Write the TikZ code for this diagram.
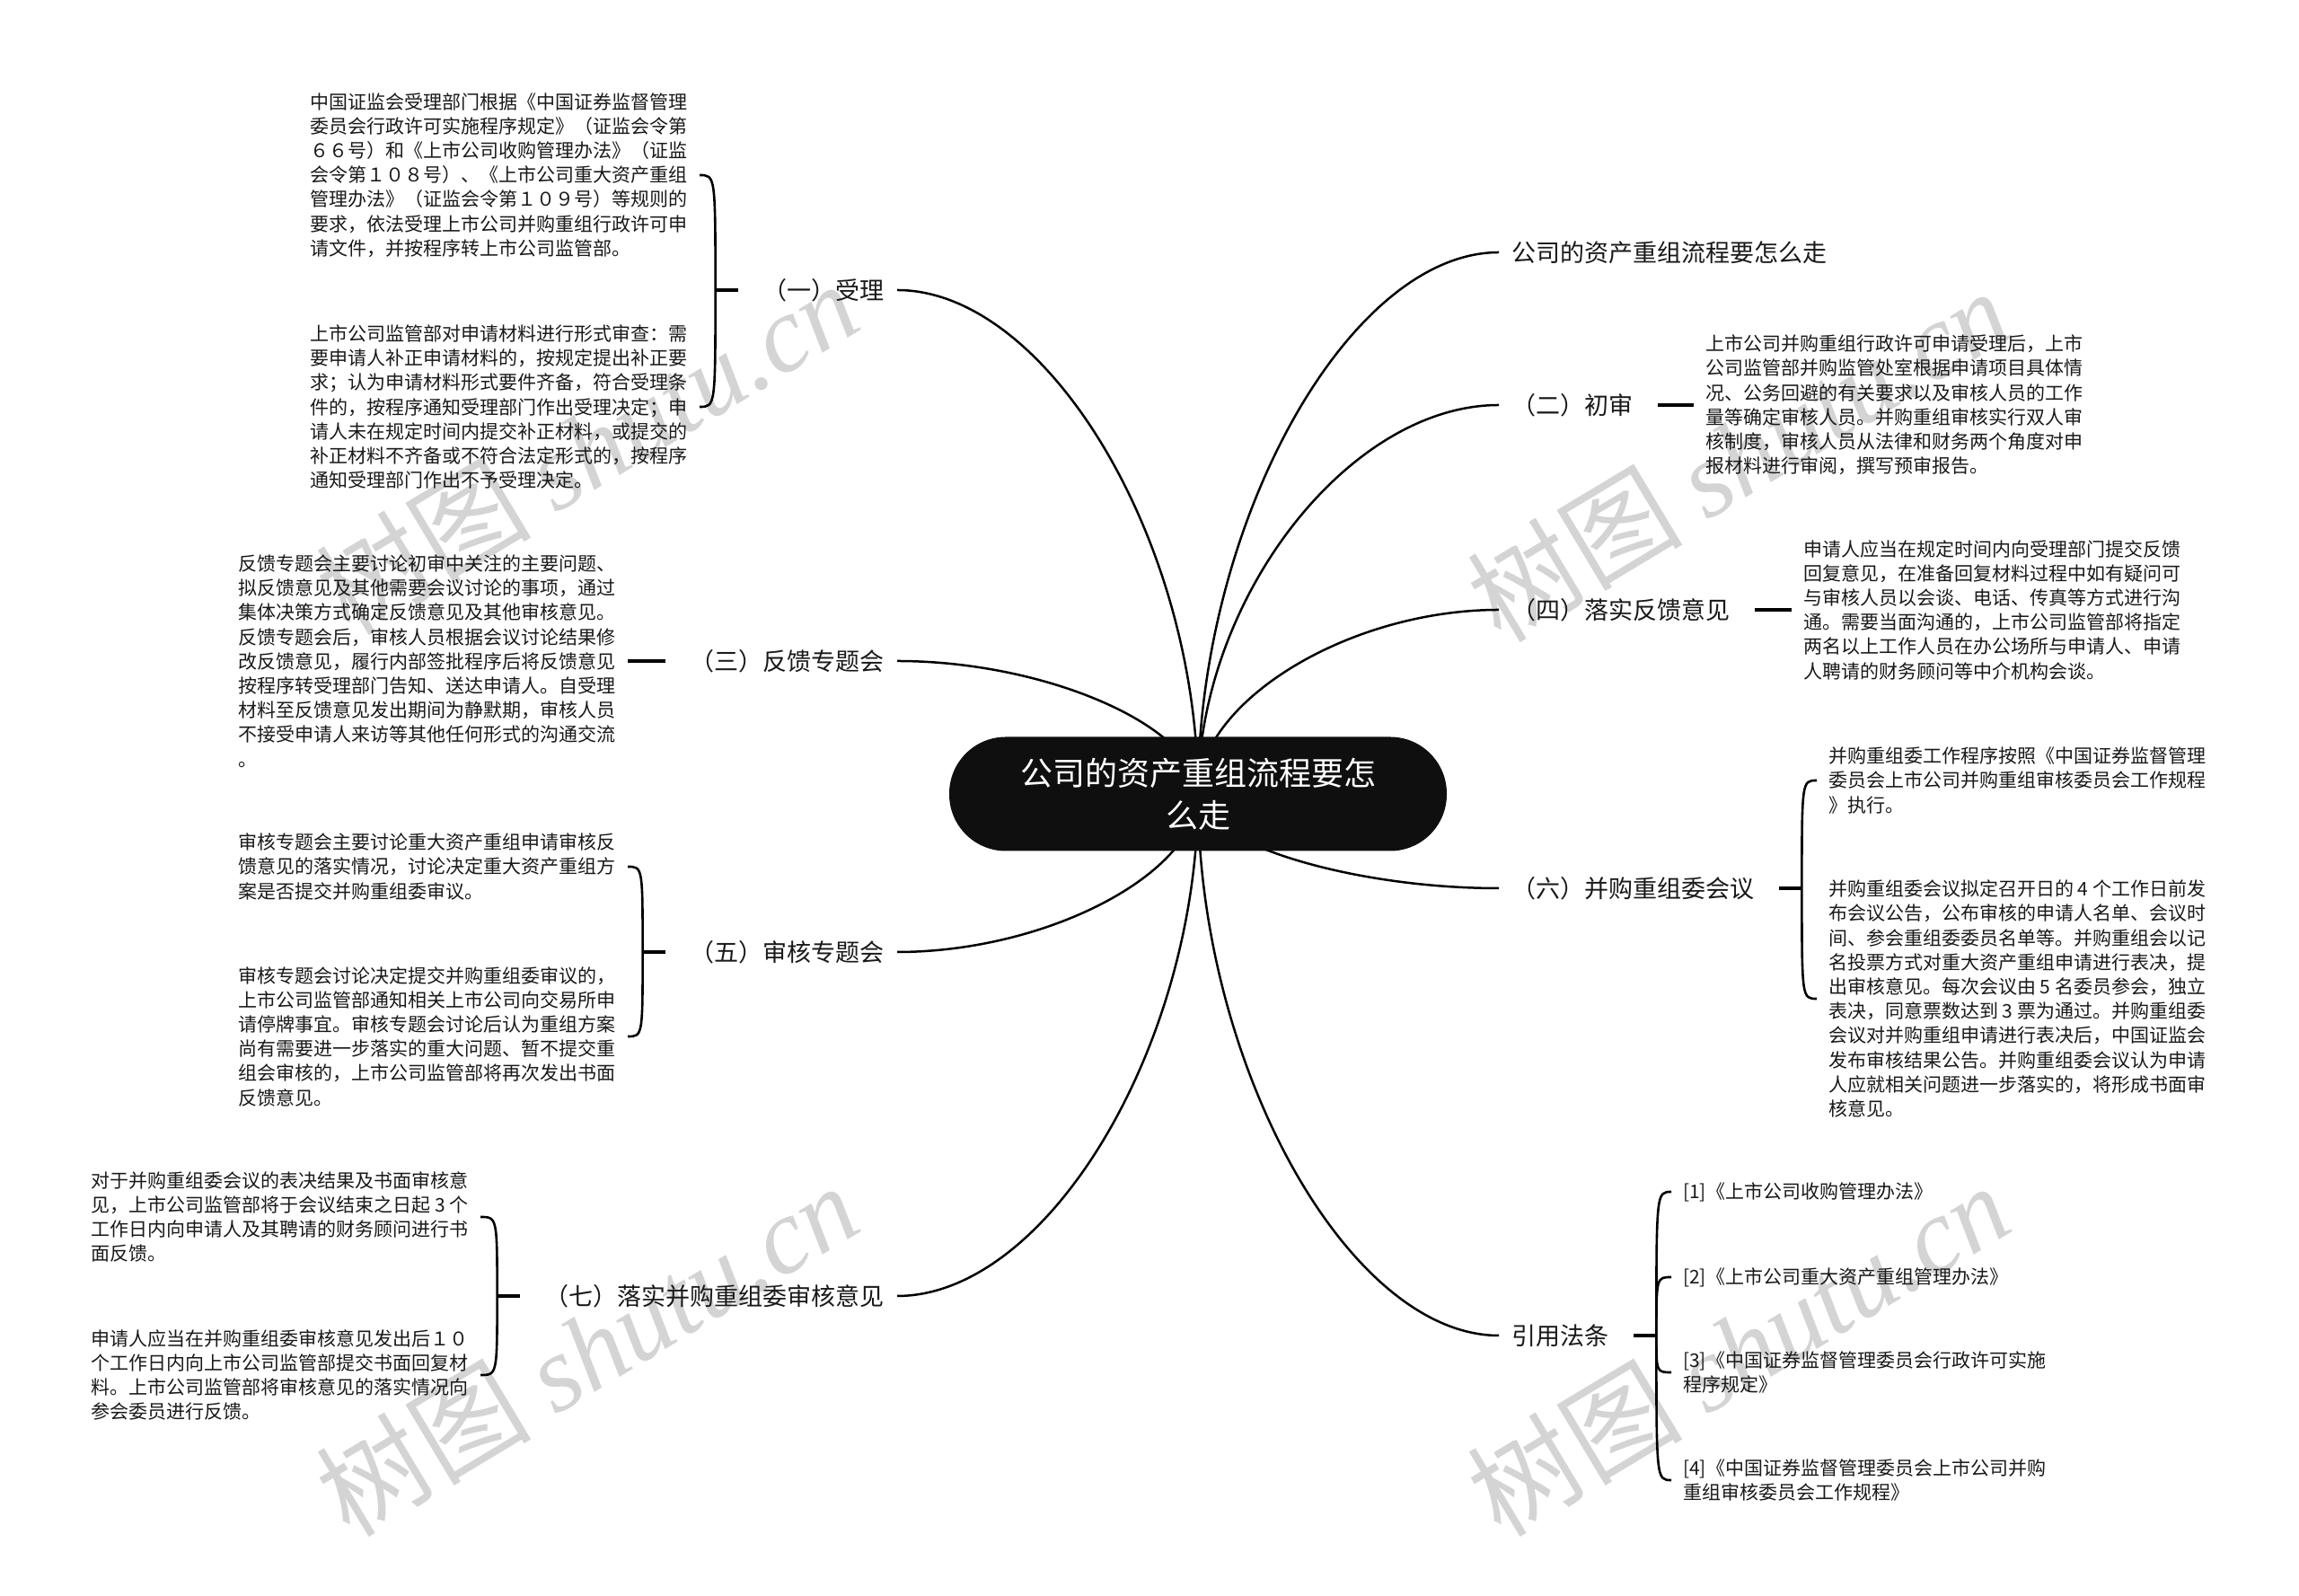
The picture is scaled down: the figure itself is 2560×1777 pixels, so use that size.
\documentclass[tikz,border=0pt]{standalone}
\usepackage{fontspec}
\setmainfont{Noto Sans CJK SC}
\newfontfamily\wmlatin{Liberation Serif}
\usetikzlibrary{calc,backgrounds,positioning}

\begin{document}
\begin{tikzpicture}[
    x=1pt, y=1pt,
    root/.style={rectangle, fill=black!94, text=white, minimum width=554pt, minimum height=127pt, rounded corners=63pt, align=center, font=\fontsize{36}{47}\selectfont},
    topic/.style={inner xsep=14pt, inner ysep=4pt, text=black!90, font=\fontsize{27}{33}\selectfont},
    note/.style={inner xsep=13pt, inner ysep=2pt, align=left, text=black!90, font=\fontsize{21}{27.2}\selectfont},
    branch/.style={line width=2.5pt, to path={.. controls ($(\tikztostart)!0.5!(\tikztostart|-\tikztotarget)$) and ($(\tikztotarget)!0.5!(\tikztostart|-\tikztotarget)$) .. (\tikztotarget)}},
    tick/.style={line width=3.6pt},
    hook/.style={line width=2.6pt, to path={.. controls (\tikztostart|-\tikztotarget) .. (\tikztotarget)}},
    watermark/.style={text=black!17, rotate=31, font=\fontsize{120}{120}\selectfont}
]
\useasboundingbox (0,0) rectangle (2560,1777);

% Background and watermarks
\begin{scope}[on background layer]
\fill[white] (0,0) rectangle (2560,1777);
\node[watermark] (wm1) at (653,1279) {树图 {\wmlatin\itshape shutu.cn}};
\node[watermark] (wm2) at (1935,1271) {树图 {\wmlatin\itshape shutu.cn}};
\node[watermark] (wm3) at (653,275) {树图 {\wmlatin\itshape shutu.cn}};
\node[watermark] (wm4) at (1935,275) {树图 {\wmlatin\itshape shutu.cn}};
\end{scope}

% Centre topic
\node[root] (root) at (1334,893) {公司的资产重组流程要怎\\么走};

% Right topics
\node[topic, anchor=west] (title) at (1669,1496) {公司的资产重组流程要怎么走};
\node[topic, anchor=west] (chushen) at (1669,1326) {（二）初审};
\node[topic, anchor=west] (luoshi) at (1669,1098) {（四）落实反馈意见};
\node[topic, anchor=west] (binggou) at (1669,788) {（六）并购重组委会议};
\node[topic, anchor=west] (fatiao) at (1669,290) {引用法条};

% Left topics
\node[topic, anchor=east] (shouli) at (999,1454) {（一）受理};
\node[topic, anchor=east] (fankui) at (999,1041) {（三）反馈专题会};
\node[topic, anchor=east] (shenhe) at (999,717) {（五）审核专题会};
\node[topic, anchor=east] (yijian) at (999,334) {（七）落实并购重组委审核意见};

% Branches from the centre
\begin{scope}[on background layer]
\draw[branch] (root.center) to (title.west);
\draw[branch] (root.center) to (chushen.west);
\draw[branch] (root.center) to (luoshi.west);
\draw[branch] (root.center) to (binggou.west);
\draw[branch] (root.center) to (fatiao.west);
\draw[branch] (root.center) to (shouli.east);
\draw[branch] (root.center) to (fankui.east);
\draw[branch] (root.center) to (shenhe.east);
\draw[branch] (root.center) to (yijian.east);
\end{scope}

% (一) notes
\node[note, anchor=east] (shouli-a) at (779,1582) {中国证监会受理部门根据《中国证券监督管理\\
委员会行政许可实施程序规定》（证监会令第\\
６６号）和《上市公司收购管理办法》（证监\\
会令第１０８号）、《上市公司重大资产重组\\
管理办法》（证监会令第１０９号）等规则的\\
要求，依法受理上市公司并购重组行政许可申\\
请文件，并按程序转上市公司监管部。};
\node[note, anchor=east] (shouli-b) at (779,1324) {上市公司监管部对申请材料进行形式审查：需\\
要申请人补正申请材料的，按规定提出补正要\\
求；认为申请材料形式要件齐备，符合受理条\\
件的，按程序通知受理部门作出受理决定；申\\
请人未在规定时间内提交补正材料，或提交的\\
补正材料不齐备或不符合法定形式的，按程序\\
通知受理部门作出不予受理决定。};
\coordinate (shouli-p) at ([xshift=-39pt]shouli.west);
\draw[tick] ([xshift=-14pt]shouli.west) -- (shouli-p);
\draw[hook] (shouli-p) to (shouli-a.east);
\draw[hook] (shouli-p) to (shouli-b.east);

% (三) notes
\node[note, anchor=east] (fankui-a) at (699,1041) {反馈专题会主要讨论初审中关注的主要问题、\\
拟反馈意见及其他需要会议讨论的事项，通过\\
集体决策方式确定反馈意见及其他审核意见。\\
反馈专题会后，审核人员根据会议讨论结果修\\
改反馈意见，履行内部签批程序后将反馈意见\\
按程序转受理部门告知、送达申请人。自受理\\
材料至反馈意见发出期间为静默期，审核人员\\
不接受申请人来访等其他任何形式的沟通交流\\
。};
\draw[tick] ([xshift=-14pt]fankui.west) -- (fankui-a.east);

% (五) notes
\node[note, anchor=east] (shenhe-a) at (699,812) {审核专题会主要讨论重大资产重组申请审核反\\
馈意见的落实情况，讨论决定重大资产重组方\\
案是否提交并购重组委审议。};
\node[note, anchor=east] (shenhe-b) at (699,623) {审核专题会讨论决定提交并购重组委审议的，\\
上市公司监管部通知相关上市公司向交易所申\\
请停牌事宜。审核专题会讨论后认为重组方案\\
尚有需要进一步落实的重大问题、暂不提交重\\
组会审核的，上市公司监管部将再次发出书面\\
反馈意见。};
\coordinate (shenhe-p) at ([xshift=-39pt]shenhe.west);
\draw[tick] ([xshift=-14pt]shenhe.west) -- (shenhe-p);
\draw[hook] (shenhe-p) to (shenhe-a.east);
\draw[hook] (shenhe-p) to (shenhe-b.east);

% (七) notes
\node[note, anchor=east] (yijian-a) at (535,422) {对于并购重组委会议的表决结果及书面审核意\\
见，上市公司监管部将于会议结束之日起 3 个\\
工作日内向申请人及其聘请的财务顾问进行书\\
面反馈。};
\node[note, anchor=east] (yijian-b) at (535,246) {申请人应当在并购重组委审核意见发出后１０\\
个工作日内向上市公司监管部提交书面回复材\\
料。上市公司监管部将审核意见的落实情况向\\
参会委员进行反馈。};
\coordinate (yijian-p) at ([xshift=-39pt]yijian.west);
\draw[tick] ([xshift=-14pt]yijian.west) -- (yijian-p);
\draw[hook] (yijian-p) to (yijian-a.east);
\draw[hook] (yijian-p) to (yijian-b.east);

% (二) notes
\node[note, anchor=west] (chushen-a) at (1886,1326) {上市公司并购重组行政许可申请受理后，上市\\
公司监管部并购监管处室根据申请项目具体情\\
况、公务回避的有关要求以及审核人员的工作\\
量等确定审核人员。并购重组审核实行双人审\\
核制度，审核人员从法律和财务两个角度对申\\
报材料进行审阅，撰写预审报告。};
\draw[tick] ([xshift=14pt]chushen.east) -- (chushen-a.west);

% (四) notes
\node[note, anchor=west] (luoshi-a) at (1995,1098) {申请人应当在规定时间内向受理部门提交反馈\\
回复意见，在准备回复材料过程中如有疑问可\\
与审核人员以会谈、电话、传真等方式进行沟\\
通。需要当面沟通的，上市公司监管部将指定\\
两名以上工作人员在办公场所与申请人、申请\\
人聘请的财务顾问等中介机构会谈。};
\draw[tick] ([xshift=14pt]luoshi.east) -- (luoshi-a.west);

% (六) notes
\node[note, anchor=west] (binggou-a) at (2023,908) {并购重组委工作程序按照《中国证券监督管理\\
委员会上市公司并购重组审核委员会工作规程\\
》执行。};
\node[note, anchor=west] (binggou-b) at (2023,665) {并购重组委会议拟定召开日的 4 个工作日前发\\
布会议公告，公布审核的申请人名单、会议时\\
间、参会重组委委员名单等。并购重组会以记\\
名投票方式对重大资产重组申请进行表决，提\\
出审核意见。每次会议由 5 名委员参会，独立\\
表决，同意票数达到 3 票为通过。并购重组委\\
会议对并购重组申请进行表决后，中国证监会\\
发布审核结果公告。并购重组委会议认为申请\\
人应就相关问题进一步落实的，将形成书面审\\
核意见。};
\coordinate (binggou-p) at ([xshift=39pt]binggou.east);
\draw[tick] ([xshift=14pt]binggou.east) -- (binggou-p);
\draw[hook] (binggou-p) to (binggou-a.west);
\draw[hook] (binggou-p) to (binggou-b.west);

% Cited rules
\node[note, anchor=west] (fatiao-a) at (1861,450) {[1]《上市公司收购管理办法》};
\node[note, anchor=west] (fatiao-b) at (1861,355) {[2]《上市公司重大资产重组管理办法》};
\node[note, anchor=west] (fatiao-c) at (1861,249) {[3]《中国证券监督管理委员会行政许可实施\\
程序规定》};
\node[note, anchor=west] (fatiao-d) at (1861,129) {[4]《中国证券监督管理委员会上市公司并购\\
重组审核委员会工作规程》};
\coordinate (fatiao-p) at ([xshift=39pt]fatiao.east);
\draw[tick] ([xshift=14pt]fatiao.east) -- (fatiao-p);
\foreach \k in {a,b,c,d}
    \draw[hook] (fatiao-p) to (fatiao-\k.west);

\end{tikzpicture}
\end{document}
